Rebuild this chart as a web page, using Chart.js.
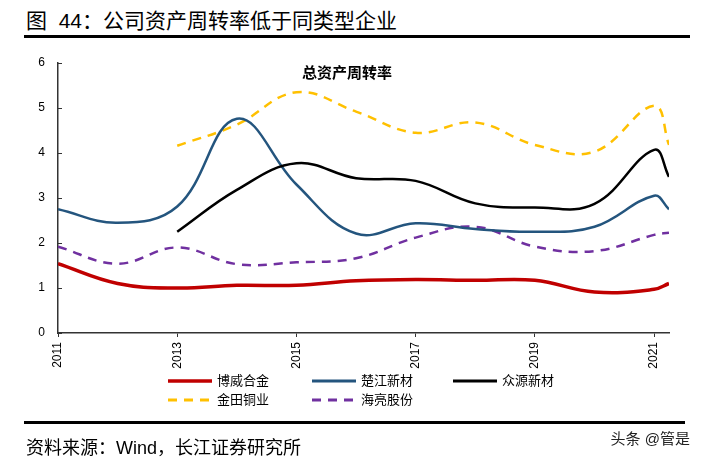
<!DOCTYPE html>
<html>
<head>
<meta charset="utf-8">
<script src="https://cdn.jsdelivr.net/npm/chart.js@4/dist/chart.umd.min.js"></script>
<style>
  html,body{margin:0;padding:0;background:#fff;}
  #wrap{position:relative;width:702px;height:464px;overflow:hidden;font-family:"Liberation Sans","Noto Sans CJK SC",sans-serif;color:#000;}
  #c{position:absolute;left:0;top:0;}
  .abs{position:absolute;white-space:nowrap;}
  #title{left:26px;top:9px;font-size:21px;line-height:23px;}
  #rule1{left:24px;top:35px;width:666px;height:3px;background:#000;}
  #rule2{left:24px;top:421px;width:661px;height:3px;background:#000;}
  #src{left:26px;top:437px;font-size:18px;line-height:22px;}
  #wm{right:12px;top:430px;font-size:15px;line-height:18px;color:#222;}
  #inner{left:302px;top:64px;font-size:15px;line-height:18px;font-weight:bold;}
  .leg{position:absolute;font-size:13px;line-height:16px;display:flex;align-items:center;}
  .leg svg{margin-right:5px;}
</style>
</head>
<body>
<div id="wrap">
  <div id="title" class="abs">图&nbsp;&nbsp;44：公司资产周转率低于同类型企业</div>
  <div id="rule1" class="abs"></div>
  <canvas id="c" width="702" height="464"></canvas>
  <div id="inner" class="abs">总资产周转率</div>
  <div id="legend"></div>
  <div id="rule2" class="abs"></div>
  <div id="src" class="abs">资料来源：Wind，长江证券研究所</div>
  <div id="wm" class="abs">头条 @管是</div>
</div>
<script>
// Periods: annual 2011-2021 plus 2021Q1 (plotted at 2021.25)
const periods = ["2011","2012","2013","2014","2015","2016","2017","2018","2019","2020","2021","2021Q1"];
const xPos    = [2011,2012,2013,2014,2015,2016,2017,2018,2019,2020,2021,2021.25];
const xTicks  = [2011,2013,2015,2017,2019,2021];
const yTicks  = [0,1,2,3,4,5,6];

const bowei    = [1.54,1.10,1.00,1.06,1.06,1.16,1.19,1.17,1.17,0.91,0.97,1.10];  // 博威合金
const chujiang = [2.75,2.45,2.81,4.76,3.30,2.21,2.44,2.31,2.25,2.36,3.05,2.75];  // 楚江新材
const zhongyuan= [null,null,2.25,3.18,3.77,3.44,3.38,2.88,2.79,2.87,4.07,3.47];  // 众源新材
const jintian  = [null,null,4.16,4.63,5.35,4.92,4.45,4.68,4.18,4.03,5.05,4.18];  // 金田铜业
const hailiang = [1.92,1.54,1.90,1.53,1.57,1.66,2.12,2.36,1.92,1.82,2.18,2.23];  // 海亮股份

const seriesNames = ["博威合金","楚江新材","众源新材","金田铜业","海亮股份"];

function pts(arr){ return arr.map((v,i)=>({x:xPos[i], y:v})); }

const styles = [
  {color:"#C00000", width:3.5, dash:[]},
  {color:"#24557E", width:2.5, dash:[]},
  {color:"#000000", width:2.5, dash:[]},
  {color:"#FFC000", width:2.5, dash:[9,7]},
  {color:"#7030A0", width:2.5, dash:[9,7]}
];
const allData = [bowei, chujiang, zhongyuan, jintian, hailiang];

const datasets = allData.map((arr,i)=>({
  label: seriesNames[i],
  data: pts(arr),
  borderColor: styles[i].color,
  backgroundColor: styles[i].color,
  borderWidth: styles[i].width,
  borderDash: styles[i].dash,
  pointRadius: 0,
  tension: 0.4,
  fill: false,
  spanGaps: false,
  borderCapStyle: 'butt'
}));
const order = [3,4,1,2,0];
order.forEach((di,k)=>{ datasets[di].order = 5-k; });

const innerTicks = {
  id:'innerTicks',
  afterDraw(chart){
    const y = chart.scales.y, ctx = chart.ctx, left = chart.chartArea.left;
    ctx.save();
    ctx.strokeStyle = '#333'; ctx.lineWidth = 1;
    yTicks.forEach(v=>{
      const py = Math.round(y.getPixelForValue(v))+0.5;
      ctx.beginPath(); ctx.moveTo(left, py); ctx.lineTo(left+4, py); ctx.stroke();
    });
    ctx.restore();
  }
};

new Chart(document.getElementById('c'), {
  type:'line',
  data:{ datasets },
  options:{
    responsive:false,
    animation:false,
    layout:{ padding:{ left:0, top:63, right:33, bottom:91 } },
    plugins:{ legend:{display:false}, tooltip:{enabled:false}, title:{display:false} },
    scales:{
      x:{
        type:'linear',
        min:2011, max:2021.25,
        afterBuildTicks(scale){ scale.ticks = xTicks.map(v=>({value:v})); },
        afterFit(scale){ scale.height = 40; },
        grid:{ display:true, drawOnChartArea:false, drawTicks:true, tickLength:4, color:'#333', lineWidth:1 },
        border:{ display:true, color:'#333', width:1.5 },
        ticks:{ minRotation:90, maxRotation:90, autoSkip:false, padding:5, color:'#000',
                font:{ family:'"Liberation Sans", Arial, sans-serif', size:12 },
                callback:(v)=>String(v) }
      },
      y:{
        min:0, max:6,
        afterBuildTicks(scale){ scale.ticks = yTicks.map(v=>({value:v})); },
        afterFit(scale){ scale.width = 58; },
        grid:{ display:false },
        border:{ display:true, color:'#333', width:1.5 },
        ticks:{ padding:5, color:'#000', font:{ family:'"Liberation Sans", Arial, sans-serif', size:12 },
                callback:(v)=>String(v) }
      }
    }
  },
  plugins:[innerTicks]
});

// HTML legend
const legPos = [[168,373],[312,373],[453,373],[168,392],[312,392]];
const legEl = document.getElementById('legend');
seriesNames.forEach((name,i)=>{
  const d = document.createElement('div');
  d.className='leg';
  d.style.left = legPos[i][0]+'px';
  d.style.top = legPos[i][1]+'px';
  const s = styles[i];
  const dash = s.dash.length ? `stroke-dasharray="${s.dash.join(',')}"` : '';
  d.innerHTML = `<svg width="44" height="6"><line x1="0" y1="3" x2="44" y2="3" stroke="${s.color}" stroke-width="${i===0?3.5:2.8}" ${dash}/></svg><span>${name}</span>`;
  legEl.appendChild(d);
});
</script>
</body>
</html>
